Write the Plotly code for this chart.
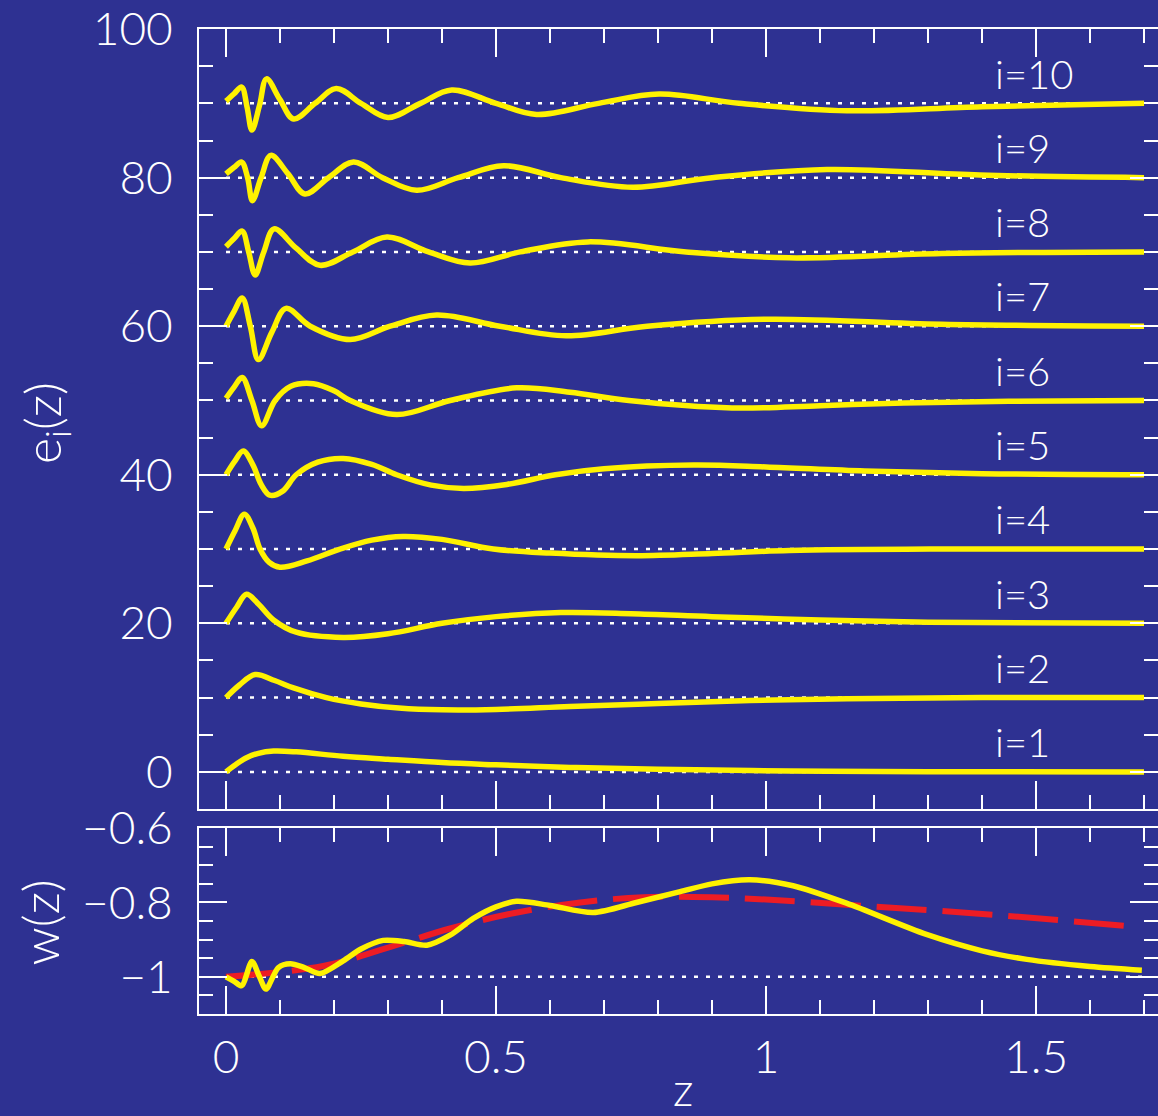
import plotly.graph_objects as go

BG = "#2E3192"
YEL = "#FFF200"
RED = "#ED1C24"
WHITE = "#FFFFFF"
FONT = "Lato"

# ---------------- data ----------------
offset_step = 10
e_levels = [0, 10, 20, 30, 40, 50, 60, 70, 80, 90]
curve_labels = ["i=1", "i=2", "i=3", "i=4", "i=5", "i=6", "i=7", "i=8", "i=9", "i=10"]
baseline_z = [0, 1.7]
w_level = -1
label_z = 1.42

e1_z = [0, 0.02, 0.038, 0.06, 0.088, 0.13, 0.217, 0.30, 0.40, 0.50, 0.637, 0.80, 1.043, 1.30, 1.70]
e1_v = [0, 1.1, 1.9, 2.5, 2.8, 2.7, 2.1, 1.7, 1.25, 0.95, 0.6, 0.35, 0.12, 0.03, 0]

e2_z = [0, 0.025, 0.054, 0.09, 0.125, 0.186, 0.25, 0.32, 0.40, 0.50, 0.637, 0.80, 0.97, 1.15, 1.40, 1.70]
e2_v = [0, 1.7, 3.1, 2.3, 1.3, 0.0, -0.85, -1.4, -1.65, -1.6, -1.2, -0.8, -0.4, -0.15, 0, 0]

e3_z = [0, 0.02, 0.038, 0.06, 0.088, 0.13, 0.217, 0.30, 0.40, 0.50, 0.62, 0.75, 0.90, 1.10, 1.30, 1.70]
e3_v = [0, 2.2, 3.9, 2.6, 0.45, -1.2, -1.9, -1.4, 0, 0.9, 1.45, 1.3, 0.9, 0.45, 0.15, 0]

e4_z = [0, 0.017, 0.034, 0.05, 0.063, 0.08, 0.10, 0.15, 0.211, 0.27, 0.328, 0.40, 0.495, 0.60, 0.76, 0.90, 1.043, 1.325, 1.70]
e4_v = [0, 2.5, 4.7, 2.8, 0, -1.8, -2.45, -1.6, 0, 1.2, 1.7, 1.3, 0, -0.55, -0.9, -0.6, -0.2, 0, 0]

e5_z = [0, 0.016, 0.032, 0.05, 0.065, 0.081, 0.105, 0.13, 0.17, 0.217, 0.27, 0.316, 0.38, 0.44, 0.52, 0.61, 0.70, 0.866, 1.0, 1.183, 1.40, 1.70]
e5_v = [0, 1.8, 3.2, 1.3, -1.3, -2.75, -2.2, 0, 1.7, 2.2, 1.4, 0, -1.4, -1.85, -1.3, 0, 0.8, 1.3, 1.05, 0.5, 0.15, 0]

e6_z = [0, 0.015, 0.030, 0.048, 0.066, 0.091, 0.12, 0.162, 0.20, 0.23, 0.316, 0.415, 0.538, 0.637, 0.746, 0.937, 1.10, 1.255, 1.45, 1.70]
e6_v = [0.3, 1.8, 3.1, 0.0, -3.4, 0, 1.9, 2.25, 1.3, 0, -1.9, 0, 1.7, 1.1, 0, -1.0, -0.7, -0.33, -0.1, 0]

e7_z = [0, 0.015, 0.030, 0.045, 0.060, 0.085, 0.111, 0.156, 0.23, 0.304, 0.39, 0.507, 0.63, 0.78, 1.0, 1.325, 1.70]
e7_v = [0, 2.0, 3.8, 0, -4.5, -0.8, 2.4, 0, -1.8, 0, 1.5, 0, -1.3, 0, 0.94, 0.27, 0]

e8_z = [0, 0.015, 0.030, 0.042, 0.054, 0.07, 0.089, 0.13, 0.174, 0.235, 0.298, 0.375, 0.452, 0.545, 0.67, 0.852, 1.043, 1.325, 1.70]
e8_v = [0.7, 1.8, 2.8, 0, -3.1, 0, 3.1, 0.5, -1.8, 0, 2.0, 0, -1.5, 0, 1.35, 0, -0.8, -0.2, 0]

e9_z = [0, 0.015, 0.029, 0.04, 0.049, 0.065, 0.083, 0.115, 0.146, 0.19, 0.236, 0.29, 0.353, 0.43, 0.514, 0.62, 0.753, 0.90, 1.113, 1.396, 1.70]
e9_v = [0.5, 1.4, 2.1, 0, -3.1, 0, 3.0, 0.5, -2.2, 0, 2.1, 0, -1.7, 0, 1.6, 0, -1.3, 0, 1.1, 0.35, 0]

e10_z = [0, 0.015, 0.029, 0.039, 0.048, 0.062, 0.075, 0.10, 0.125, 0.165, 0.204, 0.25, 0.30, 0.36, 0.418, 0.50, 0.575, 0.69, 0.802, 0.95, 1.15, 1.40, 1.70]
e10_v = [0.3, 1.3, 2.2, -0.5, -3.6, -0.3, 3.3, 0.5, -2.1, 0, 2.0, 0, -1.9, 0, 1.8, 0, -1.5, 0, 1.25, 0, -1.0, -0.45, 0]

w_z = [0, 0.015, 0.029, 0.048, 0.062, 0.074, 0.097, 0.119, 0.145, 0.174, 0.217, 0.25, 0.291, 0.33, 0.372, 0.415, 0.458, 0.50, 0.538, 0.60, 0.68, 0.76, 0.841, 0.90, 0.970, 1.05, 1.149, 1.297, 1.40, 1.483, 1.60, 1.696]
w_v = [-1.0, -1.012, -1.024, -0.959, -1.0, -1.033, -0.975, -0.965, -0.975, -0.991, -0.957, -0.925, -0.902, -0.905, -0.915, -0.888, -0.843, -0.812, -0.797, -0.808, -0.827, -0.80, -0.771, -0.750, -0.739, -0.755, -0.802, -0.886, -0.93, -0.953, -0.972, -0.982]

wfit_z = [0, 0.18, 0.297, 0.415, 0.532, 0.656, 0.773, 0.90, 1.0, 1.199, 1.421, 1.689]
wfit_v = [-1.0, -0.971, -0.923, -0.870, -0.829, -0.80, -0.786, -0.786, -0.792, -0.811, -0.833, -0.866]

curves_z = [e1_z, e2_z, e3_z, e4_z, e5_z, e6_z, e7_z, e8_z, e9_z, e10_z]
curves_v = [e1_v, e2_v, e3_v, e4_v, e5_v, e6_v, e7_v, e8_v, e9_v, e10_v]

# ---------------- figure ----------------
fig = go.Figure()

# dotted reference levels (top panel)
for lev in e_levels:
    fig.add_trace(go.Scatter(x=baseline_z, y=[lev, lev], mode="lines",
                             line=dict(color=WHITE, width=2.5, dash="4px,8px"),
                             xaxis="x2", yaxis="y", hoverinfo="skip"))

# e_i curves
for k, (zs, vs) in enumerate(zip(curves_z, curves_v)):
    off = offset_step * k
    fig.add_trace(go.Scatter(x=zs, y=[v + off for v in vs], mode="lines",
                             line=dict(color=YEL, width=5.5, shape="spline", smoothing=1.0),
                             xaxis="x2", yaxis="y", hoverinfo="skip"))

# bottom panel
fig.add_trace(go.Scatter(x=baseline_z, y=[w_level, w_level], mode="lines",
                         line=dict(color=WHITE, width=2.5, dash="4px,8px"),
                         xaxis="x", yaxis="y2", hoverinfo="skip"))
fig.add_trace(go.Scatter(x=wfit_z, y=wfit_v, mode="lines",
                         line=dict(color=RED, width=6, dash="50px,16px", shape="spline"),
                         xaxis="x", yaxis="y2", hoverinfo="skip"))
fig.add_trace(go.Scatter(x=w_z, y=w_v, mode="lines",
                         line=dict(color=YEL, width=5.5, shape="spline", smoothing=0.8),
                         xaxis="x", yaxis="y2", hoverinfo="skip"))

# placeholder traces so the right-side tick axes exist
fig.add_trace(go.Scatter(x=[0], y=[0], xaxis="x2", yaxis="y3", mode="lines",
                         line=dict(width=0), hoverinfo="skip"))
fig.add_trace(go.Scatter(x=[0], y=[-1], xaxis="x", yaxis="y4", mode="lines",
                         line=dict(width=0), hoverinfo="skip"))

tickfont = dict(family=FONT, size=46, color=WHITE, weight=300)
XR = [-0.05, 1.7259]
YR1 = [-5, 100.01]
YR2 = [-1.1, -0.5995]
top_dom = [0.2081, 1.0]
bot_dom = [0.0, 0.1889]

common = dict(showgrid=False, zeroline=False, ticks="inside", tickcolor=WHITE,
              tickwidth=2, ticklen=28, linecolor=WHITE, linewidth=2)

def minor(t0, dt):
    return dict(ticks="inside", ticklen=14, tickwidth=2, tickcolor=WHITE,
                tickmode="linear", tick0=t0, dtick=dt, showgrid=False)

fig.update_layout(
    width=1158, height=1116,
    margin=dict(l=199, r=0, t=24, b=102),
    paper_bgcolor=BG, plot_bgcolor=BG, showlegend=False,
    xaxis=dict(domain=[0, 1], anchor="y2", range=XR, showline=True, mirror="ticks",
               tickmode="linear", tick0=0, dtick=0.5, tickfont=tickfont,
               ticklabelstandoff=2, minor=minor(0, 0.1), **common),
    xaxis2=dict(domain=[0, 1], anchor="y", range=XR, showline=True, mirror="ticks",
                tickmode="linear", tick0=0, dtick=0.5, showticklabels=False,
                minor=minor(0, 0.1), **common),
    yaxis=dict(domain=top_dom, anchor="x2", range=YR1, showline=True, mirror=False,
               tickmode="linear", tick0=0, dtick=20, tickfont=tickfont,
               ticklabelstandoff=15, minor=minor(0, 5), **common),
    yaxis2=dict(domain=bot_dom, anchor="x", range=YR2, showline=True, mirror=False,
                tickmode="linear", tick0=-1, dtick=0.2, tickfont=tickfont,
                ticklabelstandoff=15, minor=minor(-1, 0.05), **common),
    yaxis3=dict(overlaying="y", side="right", anchor="x2", range=YR1, showline=False,
                tickmode="linear", tick0=0, dtick=20, showticklabels=False,
                minor=minor(0, 5), **common),
    yaxis4=dict(overlaying="y2", side="right", anchor="x", range=YR2, showline=False,
                tickmode="linear", tick0=-1, dtick=0.2, showticklabels=False,
                minor=minor(-1, 0.05), **common),
)

# curve labels
for k, lab in enumerate(curve_labels):
    fig.add_annotation(x=label_z, y=offset_step * k + 4.0, xref="x2", yref="y",
                       text=lab, showarrow=False, xanchor="left", yanchor="middle",
                       font=dict(family=FONT, size=40, color=WHITE, weight=300))

# axis titles
fig.add_annotation(x=-0.1606, y=0.60, xref="paper", yref="paper",
                   text="e<sub>i</sub>(z)", textangle=-90, showarrow=False,
                   xanchor="center", yanchor="middle",
                   font=dict(family=FONT, size=50, color=WHITE, weight=300))
fig.add_annotation(x=-0.1658, y=0.0929, xref="paper", yref="paper",
                   text="w(z)", textangle=-90, showarrow=False,
                   xanchor="center", yanchor="middle",
                   font=dict(family=FONT, size=50, color=WHITE, weight=300))
fig.add_annotation(x=0.5047, y=-0.076, xref="paper", yref="paper",
                   text="z", showarrow=False, xanchor="center", yanchor="middle",
                   font=dict(family=FONT, size=46, color=WHITE, weight=300))

fig.write_html("out.html")
